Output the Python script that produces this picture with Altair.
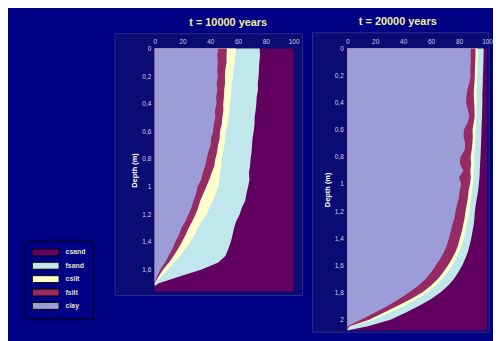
import altair as alt
import pandas as pd

# ---------------- data ----------------
legend_order = ["csand", "fsand", "csilt", "fsilt", "clay"]
legend_colors = ["#620060", "#c0e8ec", "#ffffcc", "#962a62", "#9c9cd8"]
draw_order = ["csand", "fsand", "csilt", "fsilt", "clay"]

x_ticks = [0, 20, 40, 60, 80, 100]
y_ticks_10k = [0, 0.2, 0.4, 0.6, 0.8, 1.0, 1.2, 1.4, 1.6]
y_ticks_20k = [0, 0.2, 0.4, 0.6, 0.8, 1.0, 1.2, 1.4, 1.6, 1.8, 2.0]

title_10k = "t = 10000 years"
title_20k = "t = 20000 years"

# t = 10000 years : cumulative % at the right edge of each layer
depth_10k = [0.00, 0.05, 0.10, 0.15, 0.20, 0.25, 0.30, 0.35, 0.40, 0.45,
             0.50, 0.55, 0.60, 0.65, 0.70, 0.75, 0.80, 0.85, 0.90, 0.95,
             1.00, 1.05, 1.10, 1.15, 1.20, 1.25, 1.30, 1.35, 1.40, 1.45,
             1.50, 1.55, 1.60, 1.65, 1.70, 1.72, 1.76]
clay_10k = [45.7, 45.0, 45.4, 45.0, 45.3, 44.6, 45.1, 44.2, 44.5, 43.3,
            43.6, 42.4, 42.0, 40.6, 40.2, 38.5, 37.4, 36.2, 34.6, 33.4,
            30.8, 29.8, 27.9, 26.5, 24.3, 22.0, 19.2, 17.3, 14.8, 12.7,
            10.0, 7.4, 4.0, 1.7, 0, 0, 0]
fsilt_10k = [52.0, 51.6, 51.7, 50.8, 50.5, 50.6, 50.0, 49.8, 49.3, 49.4,
             48.6, 48.2, 46.9, 46.8, 45.5, 44.9, 43.6, 42.8, 41.0, 39.2,
             37.2, 35.0, 32.8, 31.3, 29.4, 27.0, 24.4, 22.2, 19.6, 16.8,
             13.6, 10.2, 6.0, 2.9, 0, 0, 0]
csilt_10k = [58.5, 58.0, 57.5, 56.6, 56.4, 55.4, 55.2, 54.8, 54.0, 53.7,
             52.9, 52.4, 51.0, 50.8, 50.0, 49.2, 48.1, 47.8, 47.0, 46.6,
             45.8, 43.8, 42.0, 39.4, 37.4, 34.0, 31.0, 28.6, 25.5, 22.2,
             18.3, 14.0, 9.5, 4.8, 0.5, 0, 0]
fsand_10k = [75.5, 75.8, 75.3, 75.0, 74.8, 74.2, 74.3, 73.4, 73.1, 72.6,
             71.9, 71.8, 71.2, 70.4, 70.0, 69.7, 69.0, 68.6, 67.8, 68.2,
             67.2, 66.0, 65.2, 62.8, 61.2, 58.6, 57.1, 56.0, 54.8, 53.0,
             51.0, 45.7, 33.8, 18.3, 2.9, 0, 0]

# t = 20000 years
depth_20k = [0.00, 0.05, 0.10, 0.15, 0.20, 0.25, 0.30, 0.35, 0.40, 0.45,
             0.50, 0.55, 0.60, 0.65, 0.70, 0.75, 0.80, 0.85, 0.90, 0.95,
             1.00, 1.05, 1.10, 1.15, 1.20, 1.25, 1.30, 1.35, 1.40, 1.45,
             1.50, 1.55, 1.60, 1.65, 1.70, 1.75, 1.80, 1.85, 1.90, 1.95,
             2.00, 2.05, 2.08]
clay_20k = [88.5, 88.2, 88.4, 88.0, 88.2, 87.4, 86.0, 85.3, 85.0, 86.2,
            87.4, 86.0, 83.5, 83.2, 84.4, 84.0, 81.0, 80.6, 83.0, 80.0,
            81.5, 80.4, 79.9, 78.6, 77.5, 76.8, 75.2, 74.0, 72.8, 71.3,
            69.3, 66.6, 63.4, 60.2, 56.3, 51.0, 44.4, 37.2, 29.1, 20.0,
            10.2, 0.2, 0]
fsilt_20k = [91.7, 91.8, 91.5, 91.4, 91.2, 91.0, 90.6, 90.5, 90.8, 91.0,
             91.2, 90.4, 89.6, 89.8, 89.5, 89.0, 88.2, 88.6, 88.0, 88.4,
             87.8, 86.8, 86.3, 85.5, 84.6, 84.0, 83.0, 82.0, 80.6, 79.3,
             77.5, 75.0, 72.1, 68.8, 65.0, 60.0, 53.9, 45.6, 36.2, 26.3,
             16.1, 1.9, 0]
csilt_20k = [93.4, 93.5, 93.2, 93.1, 92.9, 92.8, 92.5, 92.4, 92.6, 92.3,
             92.4, 92.0, 91.7, 91.5, 91.4, 91.0, 90.8, 90.9, 90.5, 90.3,
             89.9, 89.2, 88.7, 88.0, 87.5, 86.6, 85.3, 84.6, 83.5, 82.0,
             79.9, 77.8, 75.2, 72.0, 68.1, 63.2, 57.4, 49.8, 40.9, 30.4,
             19.6, 3.1, 0]
fsand_20k = [97.6, 97.5, 97.4, 97.3, 97.0, 97.0, 96.8, 96.6, 96.7, 96.5,
             96.4, 96.2, 96.0, 95.9, 95.7, 95.5, 95.3, 95.0, 94.8, 94.6,
             94.1, 93.6, 92.8, 92.0, 91.3, 91.0, 90.5, 89.6, 88.7, 87.6,
             86.3, 84.5, 82.3, 79.6, 76.4, 72.2, 66.9, 60.0, 51.5, 42.0,
             31.4, 14.9, 0.7]

# ---------------- styling ----------------
FONT = "Liberation Sans"
BG = "#000084"
BOX = "#0a0c74"
BOX_STROKE = "#2a2c8c"


def build(depth, clay, fsilt, csilt, fsand):
    rows = []
    ends = {"csand": [100] * len(depth), "fsand": fsand, "csilt": csilt,
            "fsilt": fsilt, "clay": clay}
    for name in draw_order:
        for d, h in zip(depth, ends[name]):
            rows.append({"depth": d, "layer": name, "lo": 0, "hi": h})
    return pd.DataFrame(rows)


df_10k = build(depth_10k, clay_10k, fsilt_10k, csilt_10k, fsand_10k)
df_20k = build(depth_20k, clay_20k, fsilt_20k, csilt_20k, fsand_20k)

legend_10k = alt.Legend(
    title=None, orient="none", legendX=-131, legendY=194,
    symbolType="M-1,-0.875L5.75,-0.875L5.75,0.875L-1,0.875Z",
    symbolSize=64,
    symbolStrokeColor="#000000", symbolStrokeWidth=1,
    labelFont=FONT, labelFontSize=7, labelFontWeight="bold",
    labelColor="#e4e2bc", labelOffset=25, rowPadding=2.5, padding=7,
    fillColor=BG, strokeColor="#000000")


def panel(df, ymax, w, h, yticks, title, dx, box, legend):
    x = alt.X("lo:Q", scale=alt.Scale(domain=[0, 100], nice=False),
              axis=alt.Axis(orient="top", values=x_ticks, title=None,
                            ticks=False, domain=False, grid=False,
                            labelFlush=False,
                            labelPadding=4, labelFontSize=6.5,
                            labelColor="#c8cce0", labelFont=FONT, zindex=2))
    y = alt.Y("depth:Q",
              scale=alt.Scale(domain=[0, ymax], reverse=True, nice=False, zero=False),
              axis=alt.Axis(values=yticks, title="Depth (m)", ticks=False,
                            domain=False, grid=False, labelPadding=4,
                            labelFlush=False,
                            labelFontSize=6.5, labelColor="#d0d4e4",
                            labelFont=FONT, zindex=2,
                            labelExpr="replace(format(datum.value, '~g'), '.', ',')",
                            titleFont=FONT, titleFontSize=7.5,
                            titleFontWeight="bold", titleColor="#ffffff",
                            titlePadding=3))
    color = alt.Color("layer:N",
                      scale=alt.Scale(domain=legend_order, range=legend_colors),
                      legend=legend)
    box_rect = alt.Chart(pd.DataFrame({"k": [0]})).mark_rect(
        fill=BOX, stroke=BOX_STROKE, strokeWidth=1
    ).encode(x=alt.value(box[0]), x2=alt.value(box[1]),
             y=alt.value(box[2]), y2=alt.value(box[3]))
    layers = [box_rect]
    for name in draw_order:
        layers.append(
            alt.Chart(df).transform_filter(alt.datum.layer == name)
            .mark_area(orient="horizontal")
            .encode(y=y, x=x, x2="hi:Q", color=color)
        )
    return alt.layer(*layers).properties(
        width=w, height=h,
        title=alt.TitleParams(title, color="#f0ee9c", fontSize=11, font=FONT,
                              fontWeight="bold", frame="group", dx=dx,
                              offset=5))


left = panel(df_10k, 1.76, 140, 245, y_ticks_10k, title_10k, 4,
             (-40, 149, -15, 249), legend_10k)
right = panel(df_20k, 2.08, 141, 284, y_ticks_20k, title_20k, -19.5,
              (-35, 143, -16, 286), None)

chart = alt.hconcat(left, right, spacing=8).resolve_scale(
    color="independent"
).properties(
    background=BG,
    padding={"left": 16, "top": 6.5, "right": 0, "bottom": 8},
).configure_view(strokeWidth=0).configure(font=FONT)

chart.save("out.html", embed_options={"renderer": "svg", "actions": False})
